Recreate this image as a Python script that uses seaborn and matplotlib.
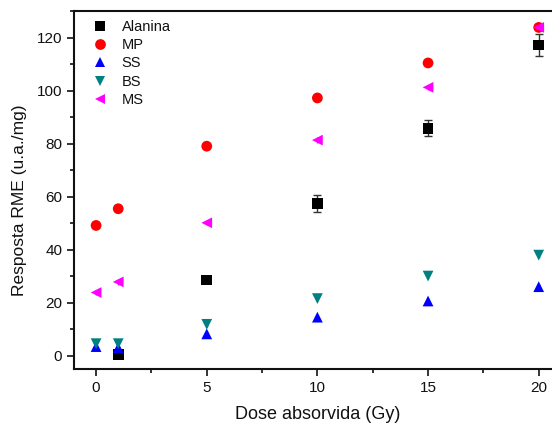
import matplotlib
matplotlib.use("Agg")
import matplotlib.pyplot as plt
import seaborn as sns
import pandas as pd
from matplotlib.ticker import MultipleLocator

dose = [0, 1, 5, 10, 15, 20]
dose_ala = [1, 5, 10, 15, 20]

alanina = [0.5, 28.5, 57.3, 85.8, 117.2]
alanina_err = [0.5, 1.0, 3.2, 3.1, 4.0]
mp = [49.1, 55.4, 79.0, 97.2, 110.4, 123.8]
ss = [3.4, 3.0, 8.2, 14.5, 20.6, 26.0]
bs = [4.5, 4.5, 11.8, 21.5, 30.0, 37.9]
ms = [23.8, 27.8, 50.1, 81.3, 101.2, 123.8]
small_err = [1.0, 1.0, 1.0, 1.0, 1.0, 1.0]

names = ["Alanina", "MP", "SS", "BS", "MS"]
colors = {"Alanina": "#000000", "MP": "#FF0000", "SS": "#0000FF",
          "BS": "#008080", "MS": "#FF00FF"}
markers = {"Alanina": "s", "MP": "o", "SS": "^", "BS": "v", "MS": "<"}

rows = []
for x, y in zip(dose_ala, alanina):
    rows.append(("Alanina", x, y))
for name, vals in [("MP", mp), ("SS", ss), ("BS", bs), ("MS", ms)]:
    for x, y in zip(dose, vals):
        rows.append((name, x, y))
df = pd.DataFrame(rows, columns=["serie", "dose", "resp"])

sns.set_style("ticks")
plt.rcParams["font.family"] = ["Liberation Sans", "DejaVu Sans"]
plt.rcParams["text.color"] = "#111111"
plt.rcParams["axes.labelcolor"] = "#111111"

fig = plt.figure(figsize=(5.52, 4.23), dpi=100)
ax = fig.add_axes([0.134, 0.128, 0.882, 0.846])

# error bars first, under the markers
ax.errorbar(dose_ala, alanina, yerr=alanina_err, fmt="none", ecolor="#333333",
            elinewidth=1, capsize=3, zorder=1)
for name, vals in [("SS", ss), ("BS", bs), ("MS", ms)]:
    ax.errorbar(dose, vals, yerr=small_err, fmt="none", ecolor=colors[name],
                elinewidth=1, capsize=0, zorder=1)

sns.scatterplot(data=df, x="dose", y="resp", hue="serie", style="serie",
                hue_order=names, style_order=names, palette=colors,
                markers=markers, s=60, edgecolor="none", linewidth=0,
                ax=ax, zorder=3)

ax.set_xlim(-1, 21)
ax.set_ylim(-5, 130)
ax.xaxis.set_major_locator(MultipleLocator(5))
ax.xaxis.set_minor_locator(MultipleLocator(2.5))
ax.yaxis.set_major_locator(MultipleLocator(20))
ax.yaxis.set_minor_locator(MultipleLocator(10))
ax.tick_params(which="major", direction="out", length=5, width=1.2,
               labelsize=11, colors="#111111")
ax.tick_params(which="minor", direction="out", length=3, width=1.2,
               colors="#111111")
for sp in ax.spines.values():
    sp.set_linewidth(1.5)
    sp.set_color("#111111")

ax.set_xlabel("Dose absorvida (Gy)", fontsize=13, labelpad=8)
ax.set_ylabel("Resposta RME (u.a./mg)", fontsize=12.5)
ax.yaxis.set_label_coords(-0.097, 0.47)

leg = ax.legend(loc="upper left", frameon=False, fontsize=10.5,
                handletextpad=0.5, labelspacing=0.3, markerscale=1.0,
                borderaxespad=0.2, bbox_to_anchor=(0.005, 1.0))

fig.savefig("out.png", dpi=100)
